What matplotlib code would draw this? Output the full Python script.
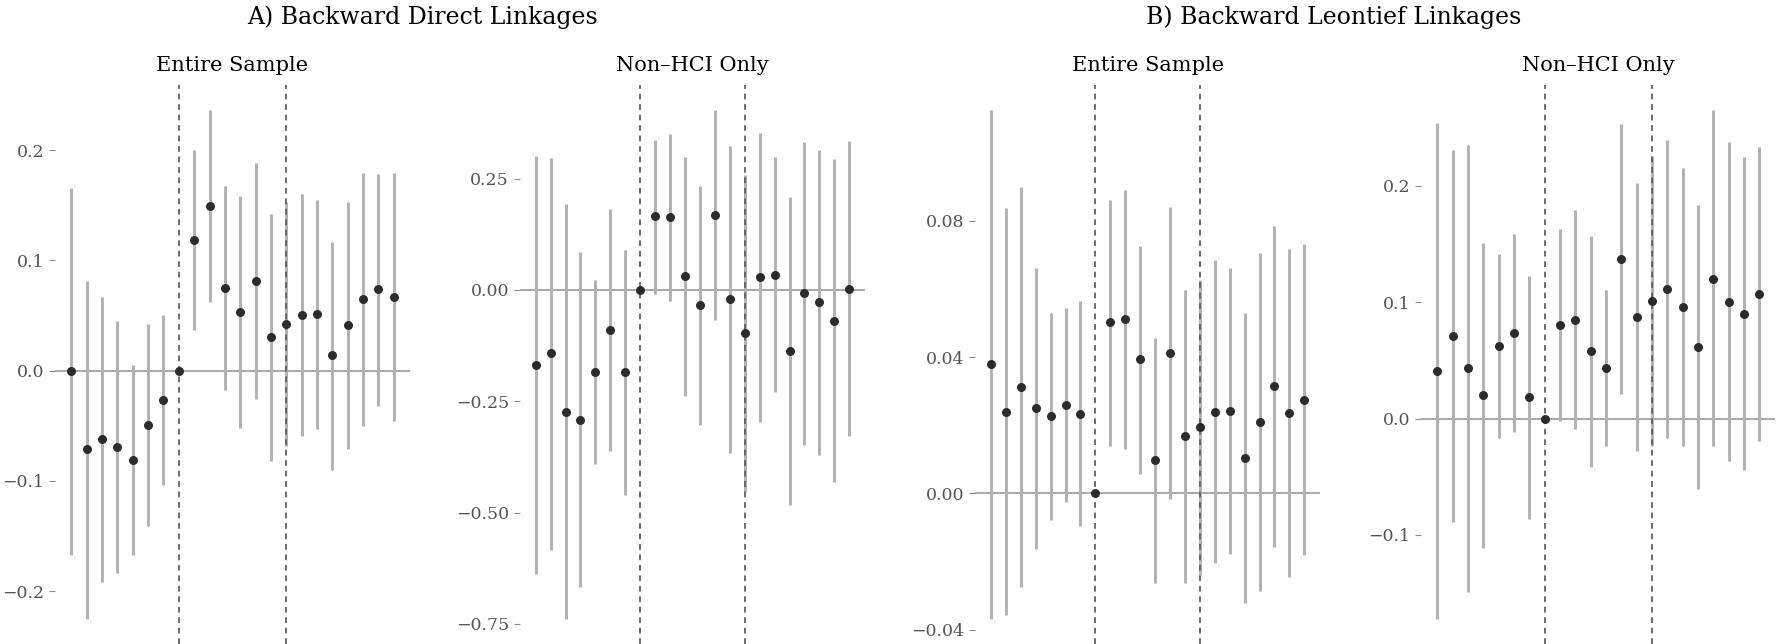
# ==========================
# Event-study coefficients
# Backward linkages, 4 panels
# ==========================

import numpy as np
import matplotlib.pyplot as plt
from matplotlib.ticker import FuncFormatter

# ==========================
# Data
# ==========================

periods = np.arange(-7, 15)
event_lines = [0, 7]

# A) Backward Direct Linkages - Entire Sample
est_a1 = [0.0, -0.071, -0.062, -0.0695, -0.081, -0.049, -0.0265, 0.0, 0.1185, 0.149, 0.075,
          0.0535, 0.081, 0.030, 0.042, 0.050, 0.051, 0.014, 0.041, 0.065, 0.074, 0.067]
lo_a1 = [-0.167, -0.225, -0.192, -0.184, -0.167, -0.141, -0.104, 0.0, 0.037, 0.062, -0.018,
         -0.052, -0.026, -0.082, -0.068, -0.059, -0.053, -0.090, -0.071, -0.050, -0.032, -0.046]
hi_a1 = [0.166, 0.081, 0.067, 0.045, 0.005, 0.042, 0.050, 0.0, 0.200, 0.236, 0.167,
         0.158, 0.188, 0.142, 0.153, 0.160, 0.155, 0.117, 0.153, 0.179, 0.178, 0.179]

# A) Backward Direct Linkages - Non-HCI Only
est_a2 = [-0.1685, -0.1426, -0.275, -0.291, -0.184, -0.090, -0.185, 0.0, 0.165, 0.163, 0.031,
          -0.034, 0.168, -0.021, -0.097, 0.029, 0.034, -0.138, -0.007, -0.028, -0.069, 0.003]
lo_a2 = [-0.639, -0.583, -0.738, -0.667, -0.392, -0.361, -0.461, 0.0, -0.009, -0.026, -0.238,
         -0.303, -0.068, -0.367, -0.454, -0.296, -0.230, -0.484, -0.349, -0.370, -0.432, -0.329]
hi_a2 = [0.301, 0.296, 0.192, 0.086, 0.023, 0.181, 0.090, 0.0, 0.336, 0.351, 0.298,
         0.233, 0.403, 0.323, 0.259, 0.352, 0.299, 0.208, 0.333, 0.315, 0.295, 0.335]

# B) Backward Leontief Linkages - Entire Sample
est_b1 = [0.038, 0.024, 0.0312, 0.0251, 0.0227, 0.026, 0.0234, 0.0, 0.0502, 0.0511, 0.0393,
          0.0098, 0.0412, 0.0168, 0.0194, 0.024, 0.0242, 0.0104, 0.021, 0.0314, 0.0235, 0.0275]
lo_b1 = [-0.0367, -0.0357, -0.0274, -0.0162, -0.0077, -0.0024, -0.0096, 0.0, 0.0140, 0.0130, 0.0058,
         -0.0264, -0.0017, -0.0262, -0.0238, -0.0204, -0.0177, -0.0322, -0.0285, -0.0156, -0.0246, -0.0182]
hi_b1 = [0.1123, 0.0836, 0.0898, 0.0661, 0.0529, 0.0544, 0.0563, 0.0, 0.0861, 0.0891, 0.0726,
         0.0456, 0.0841, 0.0596, 0.0625, 0.0685, 0.0662, 0.0529, 0.0704, 0.0783, 0.0716, 0.0731]

# B) Backward Leontief Linkages - Non-HCI Only
est_b2 = [0.0408, 0.0709, 0.0436, 0.0199, 0.0624, 0.0734, 0.0181, 0.0, 0.0805, 0.0848, 0.0578,
          0.0436, 0.1369, 0.0876, 0.1011, 0.111, 0.0961, 0.0617, 0.1202, 0.1004, 0.0901, 0.1067]
lo_b2 = [-0.172, -0.089, -0.149, -0.111, -0.017, -0.012, -0.086, 0.0, -0.0018, -0.009, -0.0418,
         -0.024, 0.0213, -0.0277, -0.0234, -0.017, -0.024, -0.0606, -0.024, -0.0369, -0.044, -0.0195]
hi_b2 = [0.254, 0.231, 0.2355, 0.151, 0.1418, 0.1585, 0.1223, 0.0, 0.163, 0.179, 0.1567,
         0.1106, 0.2528, 0.2025, 0.2259, 0.2394, 0.2156, 0.1837, 0.2649, 0.2376, 0.2245, 0.2337]

ticks_a1 = [-0.2, -0.1, 0.0, 0.1, 0.2]
ticks_a2 = [-0.75, -0.50, -0.25, 0.0, 0.25]
ticks_b1 = [-0.04, 0.0, 0.04, 0.08]
ticks_b2 = [-0.1, 0.0, 0.1, 0.2]

subtitles = ["Entire Sample", "Non\u2013HCI Only", "Entire Sample", "Non\u2013HCI Only"]

# ==========================
# Figure
# ==========================

plt.rcParams["font.family"] = ["DejaVu Serif"]

fig = plt.figure(figsize=(17.82, 6.44), dpi=100)

# axes boxes in figure fraction (left, width)
boxes = [(0.0310, 0.1990), (0.2918, 0.1936), (0.5473, 0.1934), (0.7975, 0.1988)]
panels = [
    (est_a1, lo_a1, hi_a1, ticks_a1, 1),
    (est_a2, lo_a2, hi_a2, ticks_a2, 2),
    (est_b1, lo_b1, hi_b1, ticks_b1, 2),
    (est_b2, lo_b2, hi_b2, ticks_b2, 1),
]

for (left, width), (est, lo, hi, ticks, dec), sub in zip(boxes, panels, subtitles):
    ax = fig.add_axes([left, 0.0, width, 0.868])

    ax.axhline(0, color="#9a9a9a", lw=1.2, zorder=1)
    ax.vlines(periods, lo, hi, color="#b3b3b3", lw=2.2, zorder=2)
    for v in event_lines:
        ax.axvline(v, color="#606060", lw=1.3, ls=(0, (3.2, 2.6)), zorder=3)
    ax.scatter(periods, est, s=42, color="#2b2b2b", zorder=4, linewidths=0)

    ax.margins(x=0.05, y=0.05)
    ax.set_yticks(ticks)
    ax.yaxis.set_major_formatter(
        FuncFormatter(lambda v, p, d=dec: f"{v:.{d}f}".replace("-", "\u2212")))
    ax.set_xticks([])
    ax.tick_params(axis="y", length=4, width=0.8, color="#8a8a8a",
                   labelcolor="#555555", labelsize=12.5, pad=4)
    for s in ax.spines.values():
        s.set_visible(False)

    ax.set_title(sub, fontsize=15, pad=10)

fig.text(422.5 / 1782, 1 - 17 / 644, "A) Backward Direct Linkages",
         ha="center", va="center", fontsize=17)
fig.text(1334 / 1782, 1 - 17 / 644, "B) Backward Leontief Linkages",
         ha="center", va="center", fontsize=17)

plt.savefig("out.png", dpi=100, facecolor="white")
